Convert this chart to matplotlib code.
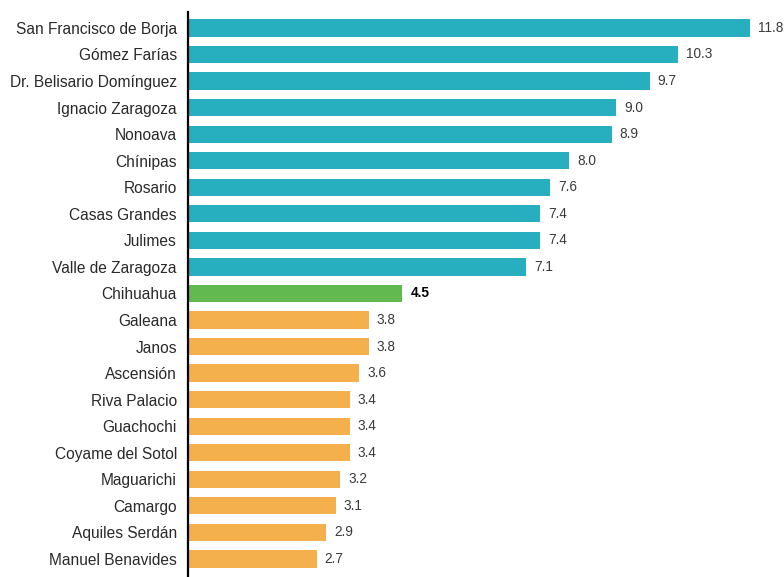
import matplotlib.pyplot as plt

plt.rcParams['font.family'] = ['Liberation Sans', 'DejaVu Sans']

municipios = ["San Francisco de Borja", "Gómez Farías", "Dr. Belisario Domínguez",
              "Ignacio Zaragoza", "Nonoava", "Chínipas", "Rosario", "Casas Grandes",
              "Julimes", "Valle de Zaragoza", "Chihuahua", "Galeana", "Janos",
              "Ascensión", "Riva Palacio", "Guachochi", "Coyame del Sotol",
              "Maguarichi", "Camargo", "Aquiles Serdán", "Manuel Benavides"]
valores = [11.8, 10.3, 9.7, 9.0, 8.9, 8.0, 7.6, 7.4, 7.4, 7.1, 4.5,
           3.8, 3.8, 3.6, 3.4, 3.4, 3.4, 3.2, 3.1, 2.9, 2.7]
referencia = "Chihuahua"

c_arriba = '#27AEBF'
c_ref = '#62B94F'
c_abajo = '#F4B04C'

ref_val = valores[municipios.index(referencia)]
colores = []
for nombre, v in zip(municipios, valores):
    if nombre == referencia:
        colores.append(c_ref)
    elif v > ref_val:
        colores.append(c_arriba)
    else:
        colores.append(c_abajo)

fig = plt.figure(figsize=(7.84, 5.77), dpi=100)
ax = fig.add_axes([188 / 784, 0, 596 / 784, 565 / 577])

y = list(range(len(municipios)))
ax.barh(y, valores, height=0.65, color=colores)

for yi, (nombre, v) in enumerate(zip(municipios, valores)):
    if nombre == referencia:
        ax.text(v + 0.17, yi, f"{v:.1f}", va='center', ha='left',
                fontsize=9.8, fontweight='bold', color='black')
    else:
        ax.text(v + 0.17, yi, f"{v:.1f}", va='center', ha='left',
                fontsize=9.8, color='#3a3a3a')

ax.set_yticks(y)
ax.set_yticklabels(municipios, fontsize=11.2, color='#2a2a2a')
ax.tick_params(axis='y', length=0, pad=8)
ax.set_xticks([])
ax.set_xlim(0, 596 / 47.6)
ax.set_ylim(len(municipios) - 1 + 0.68, -0.6)

for s in ['top', 'right', 'bottom']:
    ax.spines[s].set_visible(False)
ax.spines['left'].set_color('black')
ax.spines['left'].set_linewidth(1.6)

fig.savefig('out.png', dpi=100)
